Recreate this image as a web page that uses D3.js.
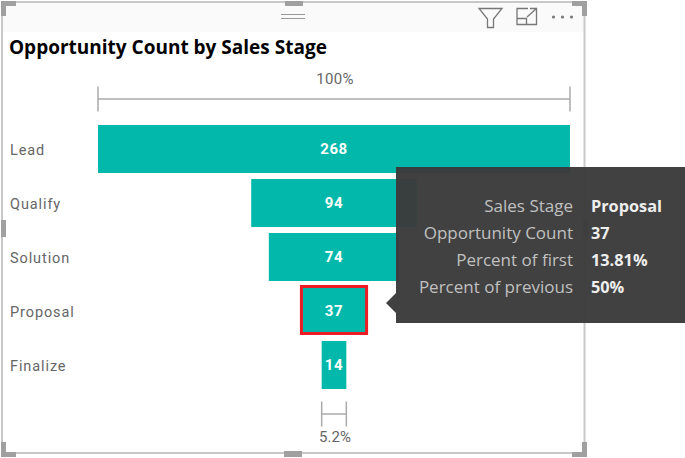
<!DOCTYPE html>
<html><head><meta charset="utf-8">
<script src="https://cdn.jsdelivr.net/npm/d3@7/dist/d3.min.js"></script>
<style>html,body{margin:0;padding:0;background:#fff;overflow:hidden}svg{display:block}</style>
</head><body><svg id="c" width="685" height="458"></svg>
<script>
const categories = ["Lead","Qualify","Solution","Proposal","Finalize"];
const values = [268,94,74,37,14];
const highlighted = "Proposal";
const title = "Opportunity Count by Sales Stage";
const topLabel = "100%";
const bottomLabel = "5.2%";
const tipLabels = ["Sales Stage","Opportunity Count","Percent of first","Percent of previous"];
const tipValues = ["Proposal","37","13.81%","50%"];

const svg = d3.select("#c");
const w = d3.scaleLinear().domain([0,268]).range([0,472]);
const cx = 334;
const y = d3.scaleBand().domain(categories).range([125,389]).paddingInner(6/54).paddingOuter(0);
const labelFont = "Roboto, sans-serif";

// visual header band
svg.append("rect").attr("x",3).attr("y",3).attr("width",581).attr("height",29).attr("fill","#fafafa");

// title
svg.append("text").attr("x",9).attr("y",54).text(title)
  .attr("font-family","'Open Sans',sans-serif").attr("font-weight",700).attr("font-size",19).attr("fill","#000");

// brackets
const bracket = (x0,x1,yc,half) => {
  const g = svg.append("g").attr("stroke","#aaaaaa").attr("stroke-width",1.5).attr("fill","none");
  g.append("line").attr("x1",x0).attr("x2",x1).attr("y1",yc).attr("y2",yc);
  [x0,x1].forEach(x=>g.append("line").attr("x1",x).attr("x2",x).attr("y1",yc-half).attr("y2",yc+half));
};
bracket(cx-w(268)/2,cx+w(268)/2,99,12.5);
svg.append("text").attr("x",cx+1).attr("y",84).attr("text-anchor","middle").text(topLabel)
  .attr("font-family",labelFont).attr("font-size",15).attr("letter-spacing",0.3).attr("fill","#666");

// bars
svg.append("g").selectAll("rect").data(categories).join("rect")
  .attr("x",(d,i)=>cx-w(values[i])/2).attr("width",(d,i)=>w(values[i]))
  .attr("y",d=>y(d)).attr("height",y.bandwidth()).attr("fill","#01b8aa");

// highlight
const hi = categories.indexOf(highlighted);
svg.append("rect").attr("x",cx-w(values[hi])/2).attr("width",w(values[hi]))
  .attr("y",y(highlighted)-0.5).attr("height",y.bandwidth()-1)
  .attr("fill","none").attr("stroke","#ed1c24").attr("stroke-width",3);

// category labels
svg.append("g").selectAll("text").data(categories).join("text")
  .attr("x",10).attr("y",d=>y(d)+30).text(d=>d)
  .attr("font-family",labelFont).attr("font-weight",400).attr("font-size",14.5).attr("letter-spacing",0.9).attr("fill","#666");

// value labels
svg.append("g").selectAll("text").data(categories).join("text")
  .attr("x",cx).attr("y",d=>y(d)+29).attr("text-anchor","middle").text((d,i)=>values[i])
  .attr("font-family",labelFont).attr("font-weight",700).attr("font-size",15).attr("letter-spacing",0.6).attr("fill","#fff");

// bottom bracket
bracket(cx-w(14)/2,cx+w(14)/2,414,12.5);
svg.append("text").attr("x",cx+1).attr("y",442).attr("text-anchor","middle").text(bottomLabel)
  .attr("font-family",labelFont).attr("font-size",15).attr("fill","#666");

// frame
svg.append("rect").attr("x",2).attr("y",2).attr("width",582.5).attr("height",451)
  .attr("fill","none").attr("stroke","#c8c8c8").attr("stroke-width",2);

// handles
const handle = "#a0a0a0";
[[285,1,18,5],[284,451,18,6],[1,220,5,17],[583,220,5,17],
 [1,1,15,5],[1,1,5,15],[572,1,15,5],[582,1,5,15],
 [1,452,15,5],[1,442,5,15],[572,452,15,5],[582,442,5,15]].forEach(r=>{
  svg.append("rect").attr("x",r[0]).attr("y",r[1]).attr("width",r[2]).attr("height",r[3]).attr("fill",handle);
});

// grip
[14.5,18.5].forEach(v=>svg.append("line").attr("x1",281).attr("x2",305).attr("y1",v).attr("y2",v).attr("stroke","#999"));

// header icons
svg.append("path").attr("d","M479 8.5H502L493.5 19V27.5H487.5V19Z").attr("fill","none").attr("stroke","#777").attr("stroke-width",1.3);
svg.append("path").attr("d","M528 8.5H517V24.5H536.5V14M517 18.5H526.5V24.5M527 17L536.5 8.5M530 8.5H536.5V14").attr("fill","none").attr("stroke","#777").attr("stroke-width",1.3);
[553.5,562.5,571.5].forEach(x=>svg.append("circle").attr("cx",x).attr("cy",17).attr("r",1.6).attr("fill","#777"));

// tooltip
const tip = svg.append("g");
tip.append("path").attr("d","M396 167H685V323H396V313L386 303L396 293Z").attr("fill","#3b3b3b").attr("fill-opacity",0.97);
const tipY = d3.scalePoint().domain(tipLabels).range([212,293]);
tip.selectAll("text.l").data(tipLabels).join("text").attr("class","l")
  .attr("x",573).attr("y",d=>tipY(d)).attr("text-anchor","end").text(d=>d)
  .attr("font-family","'Open Sans',sans-serif").attr("font-size",17).attr("fill","#c0c0c0");
tip.selectAll("text.v").data(tipLabels).join("text").attr("class","v")
  .attr("x",591).attr("y",d=>tipY(d)).text((d,i)=>tipValues[i])
  .attr("font-family","'Open Sans',sans-serif").attr("font-weight",700).attr("font-size",16.3).attr("fill","#eeeeee");
</script></body></html>
